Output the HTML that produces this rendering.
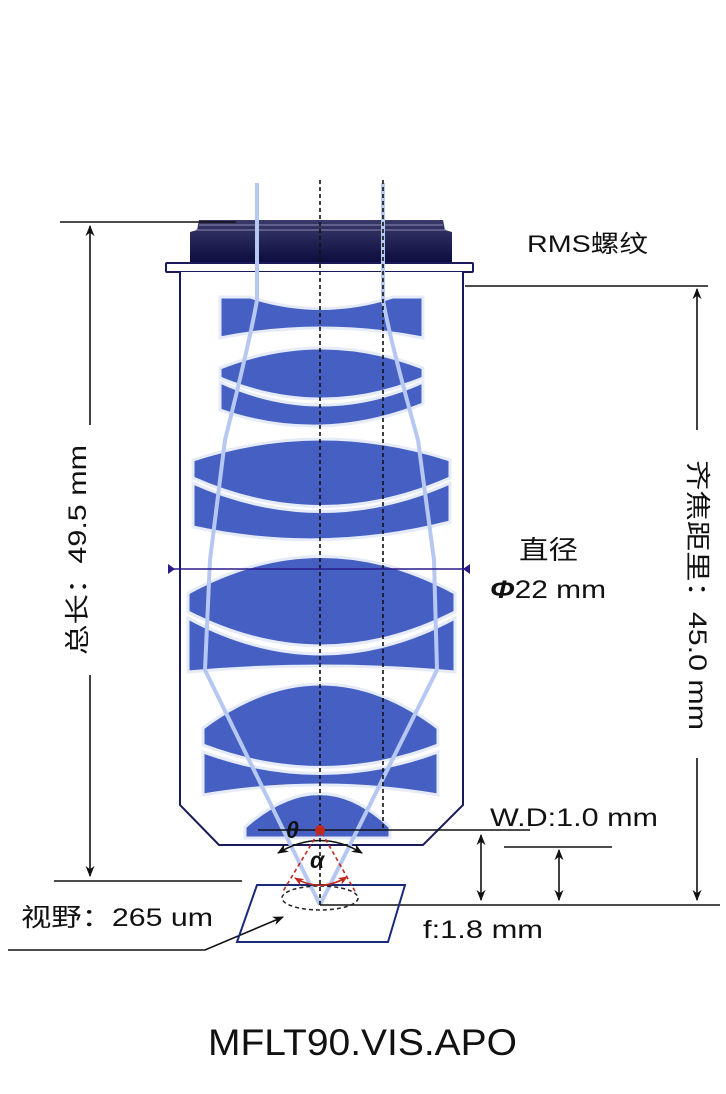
<!DOCTYPE html>
<html><head><meta charset="utf-8"><style>
html,body{margin:0;padding:0;background:#fff}
svg{display:block}
text{font-family:"Liberation Sans","Noto Sans CJK SC",sans-serif;fill:#111}
</style></head><body>
<svg width="726" height="1094" viewBox="0 0 726 1094" xmlns="http://www.w3.org/2000/svg">
<defs>
<marker id="ah" viewBox="0 0 10 10" refX="9" refY="5" markerWidth="7" markerHeight="7" orient="auto-start-reverse"><path d="M0,1 L10,5 L0,9 L3,5 Z" fill="#111"/></marker>
<marker id="ar" viewBox="0 0 10 10" refX="9" refY="5" markerWidth="6" markerHeight="6" orient="auto-start-reverse"><path d="M0,1 L10,5 L0,9 L3,5 Z" fill="#c0281c"/></marker>
<linearGradient id="cap" x1="0" y1="0" x2="0" y2="1"><stop offset="0" stop-color="#3a3a6a"/><stop offset="1" stop-color="#0c0c40"/></linearGradient>
</defs>
<path d="M199,220 L443,220 L445,230 L452,232 L452,262 L190,262 L190,232 L197,230 Z" fill="url(#cap)"/>
<line x1="199" y1="225" x2="443" y2="225" stroke="#8a8ab0" stroke-width="1"/>
<line x1="196" y1="230" x2="446" y2="230" stroke="#8a8ab0" stroke-width="1"/>
<rect x="166" y="263" width="307" height="9" fill="#fff" stroke="#1a1a5a" stroke-width="2" rx="1"/>
<path d="M180,272 L180,805 L219,845 L423,845 L463,805 L463,272" fill="#fff" stroke="#1a1a5a" stroke-width="2"/>
<g fill="#4560c2" stroke="#e6ebfa" stroke-width="3">
<path d="M220,297 L250,297 Q321,320 393,297 L423,297 L423,338 Q321,318 220,338 Z"/>
<path d="M220,368 Q321,328 423,368 L423,378 Q321,420 220,378 Z"/>
<path d="M220,382 Q321,428 423,382 L423,404 Q321,445 220,410 Z"/>
<path d="M193,460 Q321,418 450,460 L450,478 Q321,535 193,478 Z"/>
<path d="M193,483 Q321,540 450,483 L450,522 Q321,555 193,527 Z"/>
<path d="M188,593 Q321,520 455,593 L455,612 Q321,680 188,612 Z"/>
<path d="M188,618 Q321,690 455,618 L455,672 Q321,660 188,672 Z"/>
<path d="M203,728 Q321,640 438,728 L438,745 Q321,790 203,745 Z"/>
<path d="M203,752 Q321,795 438,752 L438,795 Q321,775 203,795 Z"/>
<path d="M245,827 Q321,760 390,827 L390,838 L245,838 Z"/>
</g>
<g fill="none" stroke="#b6c8f2" stroke-width="4" stroke-linejoin="round">
<path d="M257,183 L257,300 Q250,340 225,440 L210,560 L205,670 L320,905"/>
<path d="M383,183 L383,300 Q390,340 418,440 L434,560 L437,670 L320,905"/>
</g>
<line x1="320" y1="180" x2="320" y2="905" stroke="#111" stroke-width="1.6" stroke-dasharray="4,3"/>
<line x1="383" y1="180" x2="383" y2="830" stroke="#111" stroke-width="1.6" stroke-dasharray="4,3"/>
<line x1="168" y1="569" x2="470" y2="569" stroke="#2a1a8a" stroke-width="1.5"/>
<path d="M168,564 L168,574 L175,569 Z M470,564 L470,574 L463,569 Z" fill="#2a1a8a"/>
<g stroke="#111" stroke-width="1.6" fill="none">
<line x1="60" y1="222" x2="236" y2="222"/>
<line x1="90" y1="425" x2="90" y2="226" marker-end="url(#ah)"/>
<line x1="90" y1="675" x2="90" y2="876" marker-end="url(#ah)"/>
<line x1="54" y1="881" x2="242" y2="881"/>
<line x1="465" y1="286" x2="708" y2="286"/>
<line x1="697" y1="430" x2="697" y2="289" marker-end="url(#ah)"/>
<line x1="697" y1="758" x2="697" y2="900" marker-end="url(#ah)"/>
<line x1="320" y1="905" x2="720" y2="905"/>
<line x1="258" y1="830" x2="530" y2="830"/>
<line x1="504" y1="847" x2="612" y2="847"/>
<line x1="481" y1="835" x2="481" y2="900" marker-start="url(#ah)" marker-end="url(#ah)"/>
<line x1="559" y1="850" x2="559" y2="900" marker-start="url(#ah)" marker-end="url(#ah)"/>
<path d="M8,950 L205,950 L283,917" marker-end="url(#ah)"/>
<path d="M278,853 Q320,828 362,853" marker-start="url(#ah)" marker-end="url(#ah)"/>
</g>
<path d="M257,885 L405,885 L388,942 L237,942 Z" fill="none" stroke="#1a2a7a" stroke-width="2"/>
<ellipse cx="320" cy="898" rx="38" ry="12" fill="none" stroke="#222" stroke-width="1.5" stroke-dasharray="4,3"/>
<g stroke="#c0281c" stroke-width="1.6" fill="none">
<path d="M318,833 L282,893 M322,833 L356,893" stroke-dasharray="4,3"/>
<path d="M295,878 Q320,893 347,877" marker-start="url(#ar)" marker-end="url(#ar)"/>
</g>
<circle cx="320" cy="830" r="5" fill="#c0281c"/>
<text x="286" y="838" font-size="23" font-weight="bold" font-style="italic">θ</text>
<text x="310" y="868" font-size="23" font-weight="bold" font-style="italic">α</text>
<text x="527" y="252" font-size="24" textLength="121" lengthAdjust="spacingAndGlyphs">RMS螺纹</text>
<text x="519" y="559" font-size="26" textLength="59" lengthAdjust="spacingAndGlyphs">直径</text>
<text x="490" y="598" font-size="25" textLength="116" lengthAdjust="spacingAndGlyphs"><tspan font-weight="bold" font-style="italic">Φ</tspan>22 mm</text>
<text x="490" y="826" font-size="25" textLength="168" lengthAdjust="spacingAndGlyphs">W.D:1.0 mm</text>
<text x="423" y="938" font-size="25" textLength="120" lengthAdjust="spacingAndGlyphs">f:1.8 mm</text>
<text x="21" y="926" font-size="25" textLength="192" lengthAdjust="spacingAndGlyphs">视野：265 um</text>
<text transform="translate(86,550) rotate(-90)" x="-105" y="0" font-size="25" textLength="210" lengthAdjust="spacingAndGlyphs">总长：49.5 mm</text>
<text transform="translate(689,595) rotate(90)" x="-135" y="0" font-size="25" textLength="270" lengthAdjust="spacingAndGlyphs">齐焦距里：45.0 mm</text>
<text x="208" y="1055" font-size="37" textLength="309" lengthAdjust="spacingAndGlyphs">MFLT90.VIS.APO</text>
</svg>
</body></html>
